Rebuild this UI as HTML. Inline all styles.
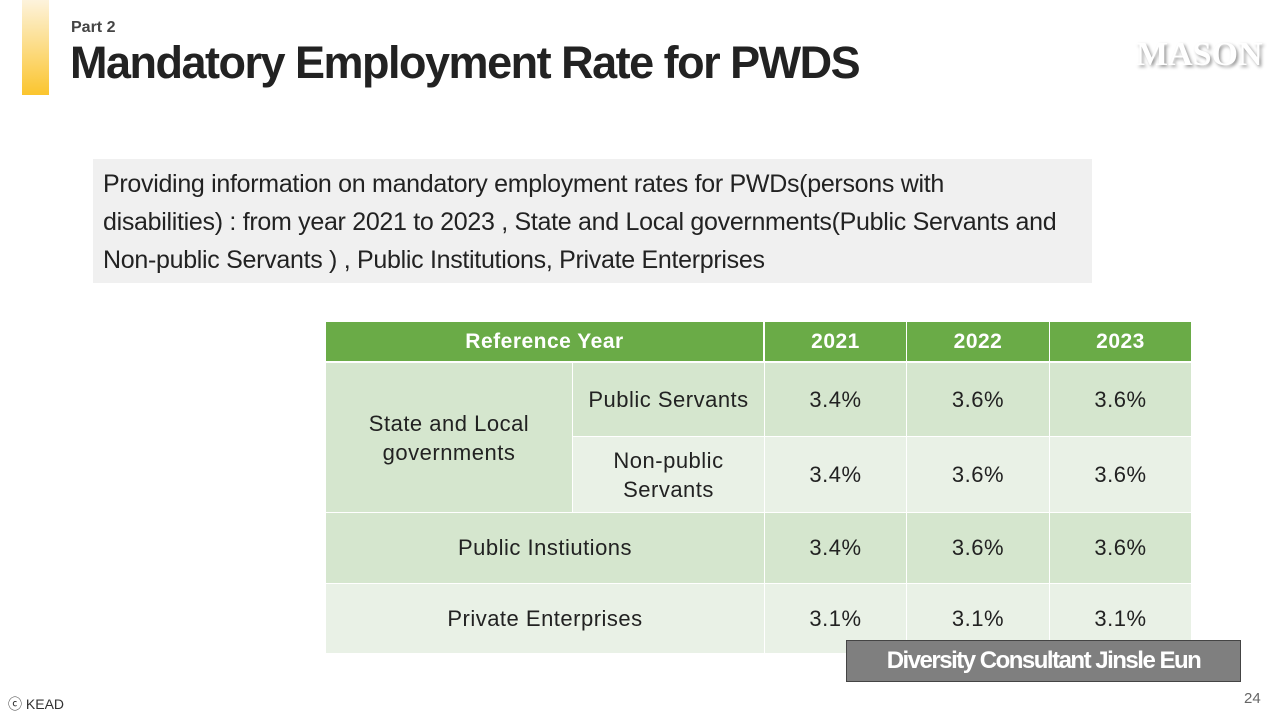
<!DOCTYPE html>
<html><head><meta charset="utf-8"><style>
body{margin:0;width:1280px;height:720px;background:#fff;position:relative;overflow:hidden;font-family:"Liberation Sans","Noto Sans CJK KR",sans-serif;}
.a{position:absolute}
.c{position:absolute;display:flex;align-items:center;justify-content:center;text-align:center;box-sizing:border-box;border:1.5px solid #fff;font-size:22px;color:#222;letter-spacing:0.5px}
.h{background:#6aab47;color:#fff;font-weight:bold;font-size:21px}
.d{background:#d5e6ce}.l{background:#e9f1e6}
</style></head><body>
<div class="a" style="left:22px;top:0;width:27px;height:95px;background:linear-gradient(#fdf3dc,#fbc52e)"></div>
<div class="a" style="left:71px;top:19px;font-size:16px;font-weight:bold;color:#444">Part 2</div>
<div class="a" style="left:70px;top:37px;font-size:45px;font-weight:bold;color:#222;letter-spacing:-1.5px">Mandatory Employment Rate for PWDS</div>
<div class="a" style="left:1136px;top:36px;font-size:34px;font-weight:bold;color:#fff;text-shadow:2px 2px 3px #999;font-family:'Liberation Serif',serif">MASON</div>
<div class="a" style="left:93px;top:159px;width:999px;height:124px;background:#f0f0f0;box-sizing:border-box;padding:6px 10px;font-size:25px;line-height:38px;color:#222;letter-spacing:-0.3px;white-space:nowrap">Providing information on mandatory employment rates for PWDs(persons with<br>disabilities) : from year 2021 to 2023 , State and Local governments(Public Servants and<br>Non-public Servants ) , Public Institutions, Private Enterprises</div>
<div>
<div class="c h" style="left:325px;top:321px;width:439px;height:41px">Reference Year</div>
<div class="c h" style="left:764px;top:321px;width:143px;height:41px">2021</div>
<div class="c h" style="left:906px;top:321px;width:144px;height:41px">2022</div>
<div class="c h" style="left:1049px;top:321px;width:143px;height:41px">2023</div>
<div class="c d" style="left:325px;top:362px;width:248px;height:151px;line-height:29px">State and Local<br>governments</div>
<div class="c d" style="left:572px;top:362px;width:193px;height:75px">Public Servants</div>
<div class="c d" style="left:764px;top:362px;width:143px;height:75px">3.4%</div>
<div class="c d" style="left:906px;top:362px;width:144px;height:75px">3.6%</div>
<div class="c d" style="left:1049px;top:362px;width:143px;height:75px">3.6%</div>
<div class="c l" style="left:572px;top:436px;width:193px;height:77px;line-height:29px">Non-public<br>Servants</div>
<div class="c l" style="left:764px;top:436px;width:143px;height:77px">3.4%</div>
<div class="c l" style="left:906px;top:436px;width:144px;height:77px">3.6%</div>
<div class="c l" style="left:1049px;top:436px;width:143px;height:77px">3.6%</div>
<div class="c d" style="left:325px;top:512px;width:440px;height:72px">Public Instiutions</div>
<div class="c d" style="left:764px;top:512px;width:143px;height:72px">3.4%</div>
<div class="c d" style="left:906px;top:512px;width:144px;height:72px">3.6%</div>
<div class="c d" style="left:1049px;top:512px;width:143px;height:72px">3.6%</div>
<div class="c l" style="left:325px;top:583px;width:440px;height:71px">Private Enterprises</div>
<div class="c l" style="left:764px;top:583px;width:143px;height:71px">3.1%</div>
<div class="c l" style="left:906px;top:583px;width:144px;height:71px">3.1%</div>
<div class="c l" style="left:1049px;top:583px;width:143px;height:71px">3.1%</div>
</div>
<div class="a" style="left:846px;top:640px;width:395px;height:42px;background:#7f7f7f;border:1px solid #444;box-sizing:border-box;color:#fff;font-weight:bold;font-size:24px;display:flex;align-items:center;justify-content:center;letter-spacing:-1.5px">Diversity Consultant Jinsle Eun</div>
<div class="a" style="left:8px;top:694px;font-size:14px;color:#333">ⓒ KEAD</div>
<div class="a" style="left:1244px;top:690px;font-size:15px;color:#666">24</div>
</body></html>
